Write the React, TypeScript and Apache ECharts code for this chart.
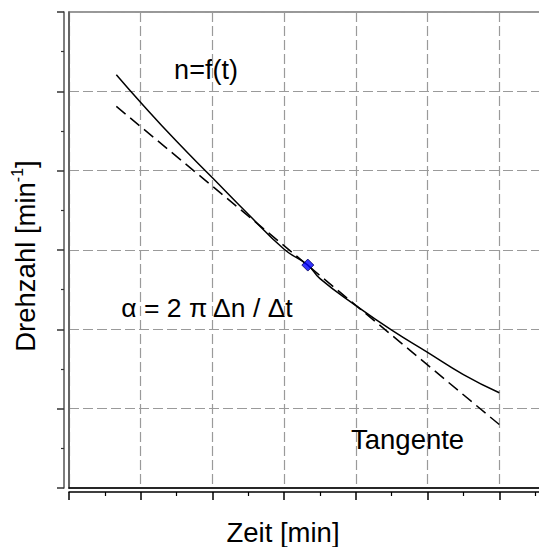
import React, { useEffect, useRef } from "react";
import * as echarts from "echarts";

// n = f(t) curve
const curveX = [0.66, 1.0, 1.5, 2.0, 2.5, 3.0, 3.33, 3.5, 4.0, 4.5, 5.0, 5.5, 6.0];
const curveY = [5.21, 4.86, 4.37, 3.91, 3.45, 3.01, 2.81, 2.64, 2.3, 1.99, 1.71, 1.43, 1.2];
// tangent end points
const tangentX = [0.66, 6.0];
const tangentY = [4.81, 0.8];
// tangent point
const pointX = [3.33];
const pointY = [2.81];

const FONT = "'Liberation Sans', Arial, Helvetica, sans-serif";

export default function App() {
  const ref = useRef<HTMLDivElement>(null);
  useEffect(() => {
    if (!ref.current) return;
    const chart = echarts.init(ref.current, undefined, { renderer: "svg" });
    const grid = "#9a9a9a";
    chart.setOption({
      animation: false,
      backgroundColor: "#ffffff",
      grid: {
        left: 69,
        top: 12,
        right: 0,
        bottom: 59,
        show: true,
        borderColor: "#777",
        borderWidth: 1.5,
      },
      xAxis: [
        {
          type: "value",
          min: 0,
          max: 7,
          interval: 1,
          position: "bottom",
          offset: 4,
          axisLine: { show: true, onZero: false, lineStyle: { color: "#000", width: 1.5 } },
          axisTick: { show: true, inside: false, length: 8, lineStyle: { color: "#000", width: 1.5 } },
          minorTick: { show: true, splitNumber: 2, length: 4, lineStyle: { color: "#000", width: 1.2 } },
          axisLabel: { show: false },
          splitLine: { show: true, lineStyle: { color: grid, width: 1.2, type: [10, 4] } },
        },
        {
          type: "value",
          min: 0,
          max: 7,
          position: "bottom",
          offset: 0,
          axisLine: { show: true, onZero: false, lineStyle: { color: "#000", width: 1.5 } },
          axisTick: { show: false },
          axisLabel: { show: false },
          splitLine: { show: false },
        },
      ],
      yAxis: [
        {
          type: "value",
          min: 0,
          max: 6,
          interval: 1,
          position: "left",
          offset: 5,
          axisLine: { show: true, onZero: false, lineStyle: { color: "#555", width: 1.5 } },
          axisTick: { show: true, inside: false, length: 7, lineStyle: { color: "#333", width: 1.5 } },
          minorTick: { show: true, splitNumber: 2, length: 3, lineStyle: { color: "#333", width: 1.2 } },
          axisLabel: { show: false },
          splitLine: { show: true, lineStyle: { color: grid, width: 1.2, type: [10, 4] } },
        },
        {
          type: "value",
          min: 0,
          max: 6,
          position: "left",
          offset: 0,
          axisLine: { show: true, onZero: false, lineStyle: { color: "#555", width: 1.5 } },
          axisTick: { show: false },
          axisLabel: { show: false },
          splitLine: { show: false },
        },
      ],
      series: [
        {
          type: "line",
          data: curveX.map((x, i) => [x, curveY[i]]),
          smooth: true,
          showSymbol: false,
          lineStyle: { color: "#000", width: 1.5 },
          z: 3,
        },
        {
          type: "line",
          data: tangentX.map((x, i) => [x, tangentY[i]]),
          showSymbol: false,
          lineStyle: { color: "#000", width: 1.5, type: [12, 6] },
          z: 3,
        },
        {
          type: "scatter",
          data: pointX.map((x, i) => [x, pointY[i]]),
          symbol: "diamond",
          symbolSize: [12, 12],
          itemStyle: { color: "#0000ff", borderColor: "#00005a", borderWidth: 1 },
          z: 5,
        },
      ],
      graphic: [
        {
          type: "text",
          x: 206,
          y: 70,
          style: { text: "n=f(t)", font: `27px ${FONT}`, fill: "#000", align: "center", verticalAlign: "middle" },
        },
        {
          type: "text",
          x: 207,
          y: 308,
          style: { text: "α = 2 π Δn / Δt", font: `26.5px ${FONT}`, fill: "#000", align: "center", verticalAlign: "middle" },
        },
        {
          type: "text",
          x: 351,
          y: 439,
          style: { text: "Tangente", font: `27.5px ${FONT}`, fill: "#000", align: "left", verticalAlign: "middle" },
        },
        {
          type: "text",
          x: 283,
          y: 532,
          style: { text: "Zeit [min]", font: `27.5px ${FONT}`, fill: "#000", align: "center", verticalAlign: "middle" },
        },
        {
          type: "text",
          x: 24,
          y: 256,
          rotation: Math.PI / 2,
          style: {
            text: "{b|Drehzahl [min}{s|-1}{b|]}",
            fill: "#000",
            align: "center",
            verticalAlign: "middle",
            rich: {
              b: { fontSize: 27.5, fontFamily: FONT, fill: "#000", lineHeight: 30, verticalAlign: "bottom" },
              s: { fontSize: 16, fontFamily: FONT, fill: "#000", lineHeight: 30, verticalAlign: "top" },
            },
          },
        },
      ],
    });
    return () => chart.dispose();
  }, []);
  return (
    <div style={{ position: "fixed", left: 0, top: 0, width: 539, height: 547, overflow: "hidden" }}>
      <div ref={ref} style={{ width: 571, height: 547 }} />
    </div>
  );
}
